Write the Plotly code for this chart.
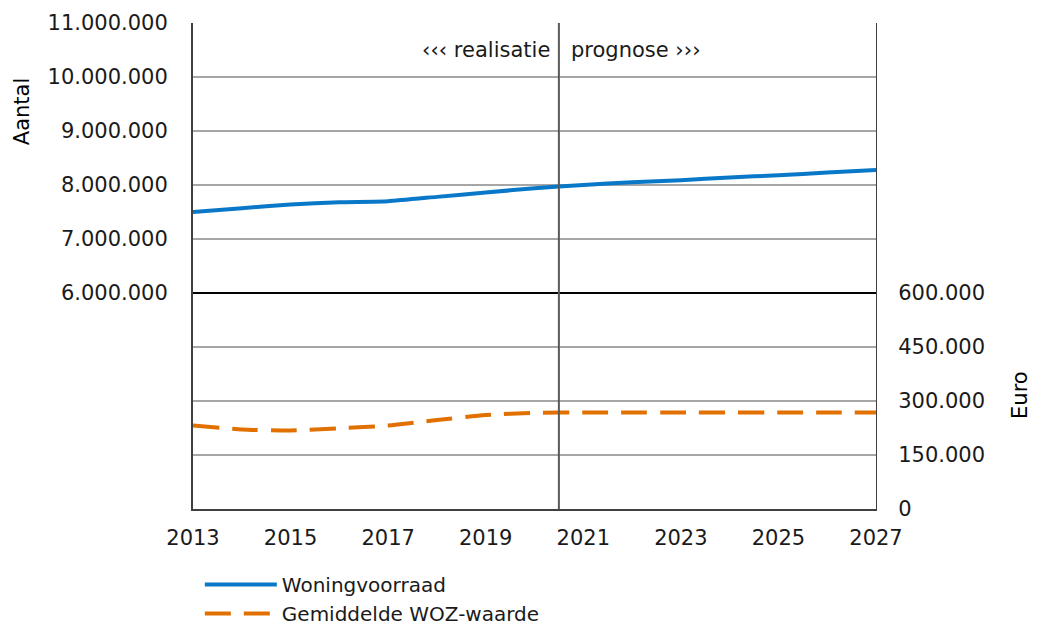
import plotly.graph_objects as go

years = list(range(2013, 2028))
woningvoorraad = [
    7500000, 7570000, 7640000, 7680000, 7700000, 7780000, 7860000, 7940000,
    8000000, 8050000, 8090000, 8140000, 8180000, 8230000, 8280000,
]
woz_waarde = [
    232000, 221000, 218000, 224000, 232000, 247000, 261000, 267000,
    268000, 268000, 268000, 268000, 268000, 268000, 268000,
]

x_ticks = [2013, 2015, 2017, 2019, 2021, 2023, 2025, 2027]
aantal_ticks = [6000000, 7000000, 8000000, 9000000, 10000000, 11000000]
euro_ticks = [0, 150000, 300000, 450000, 600000]
forecast_start = 2020.5
axis_split = 6000000


def dotted(v):
    return f"{v:,}".replace(",", ".")


FONT = "Verdana, DejaVu Sans, sans-serif"
TXT = "#1a1a1a"
GRID = "#a6a6a6"

fig = go.Figure()
fig.add_trace(go.Scatter(
    x=years, y=woningvoorraad, name="Woningvoorraad", mode="lines",
    line={"color": "#0a78c8", "width": 4, "shape": "spline", "smoothing": 0.5},
    yaxis="y",
))
fig.add_trace(go.Scatter(
    x=years, y=woz_waarde, name="Gemiddelde WOZ-waarde", mode="lines",
    line={"color": "#e17000", "width": 4, "dash": "26px,13px", "shape": "spline", "smoothing": 0.6},
    yaxis="y2",
))

# boundary between the two value axes, and the realisatie/prognose divider
fig.add_shape(type="line", xref="paper", yref="y", x0=0, x1=1, y0=axis_split, y1=axis_split,
              line={"color": "#000000", "width": 2}, layer="above")
fig.add_shape(type="line", xref="x", yref="paper", x0=forecast_start, x1=forecast_start, y0=0, y1=1,
              line={"color": "#5a5a5a", "width": 2}, layer="above")

fig.add_annotation(x=forecast_start, y=0.944, xref="x", yref="paper", yanchor="middle",
                   text="‹‹‹ realisatie", showarrow=False, xanchor="right", xshift=-7,
                   font={"size": 21, "color": TXT, "family": FONT})
fig.add_annotation(x=forecast_start, y=0.944, xref="x", yref="paper", yanchor="middle",
                   text="prognose ›››", showarrow=False, xanchor="left", xshift=10,
                   font={"size": 21, "color": TXT, "family": FONT})

fig.add_annotation(x=-0.25, y=0.817, xref="paper", yref="paper", text="Aantal", textangle=-90,
                   xanchor="center", yanchor="middle", showarrow=False,
                   font={"size": 21, "color": "#000000", "family": FONT})
fig.add_annotation(x=1.211, y=0.235, xref="paper", yref="paper", text="Euro", textangle=-90,
                   xanchor="center", yanchor="middle", showarrow=False,
                   font={"size": 21, "color": "#000000", "family": FONT})

fig.update_layout(
    width=1025, height=619,
    margin={"l": 185, "r": 157, "t": 15, "b": 118, "autoexpand": False},
    paper_bgcolor="white", plot_bgcolor="white",
    font={"family": FONT, "size": 21, "color": TXT},
    showlegend=True,
    legend={"x": 0.01, "y": -0.115, "xanchor": "left", "yanchor": "top",
            "font": {"size": 20, "color": TXT}, "tracegroupgap": 0, "itemwidth": 72},
    xaxis={"range": [2013, 2027], "tickvals": x_ticks, "showgrid": False,
           "showline": True, "linecolor": "#404040", "linewidth": 2, "ticks": "",
           "zeroline": False, "ticklabelstandoff": 9},
    yaxis={"range": [2000000, 11000000], "tickvals": aantal_ticks,
           "ticktext": [dotted(v) for v in aantal_ticks], "showgrid": True,
           "gridcolor": GRID, "gridwidth": 2, "showline": True, "linecolor": "#404040",
           "linewidth": 2, "zeroline": False, "ticks": "", "ticklabelstandoff": 19},
    yaxis2={"range": [0, 1350000], "tickvals": euro_ticks,
            "ticktext": [dotted(v) for v in euro_ticks], "overlaying": "y", "side": "right",
            "showgrid": True, "gridcolor": GRID, "gridwidth": 2, "showline": True,
            "linecolor": "#404040", "linewidth": 1, "zeroline": False, "ticks": "",
            "ticklabelstandoff": 17},
)

fig.write_html("out.html")
